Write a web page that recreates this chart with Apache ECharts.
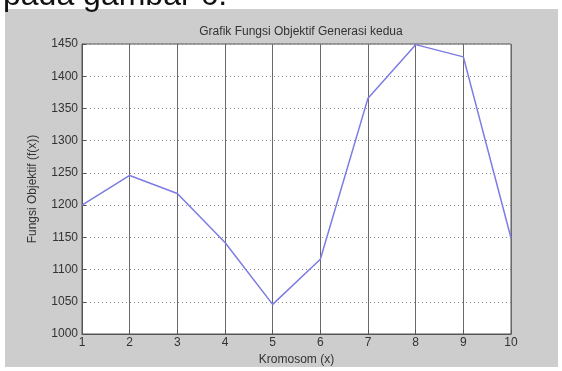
<!DOCTYPE html>
<html>
<head>
<meta charset="utf-8">
<script src="https://cdn.jsdelivr.net/npm/echarts@6/dist/echarts.min.js"></script>
<style>
  html, body { margin: 0; padding: 0; background: #ffffff; }
  #chart { width: 562px; height: 371px; }
</style>
</head>
<body>
<div id="chart"></div>
<script>
// Objective function value for each chromosome of the second generation
const kromosom = [1, 2, 3, 4, 5, 6, 7, 8, 9, 10];
const nilaiFungsi = [1200, 1246, 1218, 1142, 1046, 1116, 1366, 1449, 1430, 1149];
const yTicks = { min: 1000, max: 1450, step: 50 };

const FONT = '"Liberation Sans", Arial, sans-serif';
const chart = echarts.init(document.getElementById('chart'), null, { renderer: 'canvas' });

chart.setOption({
  animation: false,
  backgroundColor: '#ffffff',
  graphic: [
    {
      type: 'text', left: 3, top: -20, z: 0,
      style: { text: 'pada gambar 6.', font: '32px ' + FONT, fill: '#111' }
    },
    {
      type: 'rect', shape: { x: 5, y: 9, width: 553, height: 358 }, z: -1,
      style: { fill: '#cdcdcd' }, silent: true
    }
  ],
  title: {
    text: 'Grafik Fungsi Objektif Generasi kedua',
    left: 296, top: 21, textAlign: 'center',
    textStyle: { fontSize: 12, fontWeight: 'normal', color: '#333', fontFamily: FONT }
  },
  grid: {
    left: 82, right: 51, top: 44, bottom: 37,
    show: true, backgroundColor: '#ffffff', borderColor: '#555', borderWidth: 1
  },
  xAxis: {
    type: 'value', min: 1, max: 10, interval: 1,
    name: 'Kromosom (x)', nameLocation: 'middle', nameGap: 19,
    nameTextStyle: { fontSize: 12, color: '#333', fontFamily: FONT },
    axisLine: { show: true, lineStyle: { color: '#555' } },
    axisTick: { show: true, inside: true, length: 4, lineStyle: { color: '#555' } },
    axisLabel: { fontSize: 12, color: '#333', margin: 3, fontFamily: FONT },
    splitLine: { show: true, lineStyle: { color: '#6a6a6a', width: 1, type: 'solid' } }
  },
  yAxis: {
    type: 'value', min: yTicks.min, max: yTicks.max, interval: yTicks.step,
    name: 'Fungsi Objektif (f(x))', nameLocation: 'middle', nameGap: 43, nameRotate: 90,
    nameTextStyle: { fontSize: 12, color: '#333', fontFamily: FONT },
    axisLine: { show: true, lineStyle: { color: '#555' } },
    axisTick: { show: true, inside: true, length: 4, lineStyle: { color: '#555' } },
    axisLabel: { fontSize: 12, color: '#333', margin: 4, fontFamily: FONT, formatter: v => String(v) },
    splitLine: { show: true, lineStyle: { color: '#8a8a8a', width: 1, type: [1, 3] } }
  },
  series: [{
    type: 'line',
    data: kromosom.map((k, i) => [k, nilaiFungsi[i]]),
    showSymbol: false,
    lineStyle: { color: '#7c7ce2', width: 1.5 },
    z: 5
  }]
});
</script>
</body>
</html>
